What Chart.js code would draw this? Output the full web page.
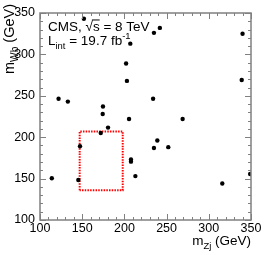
<!DOCTYPE html>
<html>
<head>
<meta charset="utf-8">
<script src="https://cdn.jsdelivr.net/npm/chart.js@4/dist/chart.umd.min.js"></script>
<style>
  html, body { margin: 0; padding: 0; background: #fff; }
</style>
</head>
<body>
<canvas id="c" width="266" height="255"></canvas>
<script>
// candidate events, m_Zj vs m_Wb (GeV)
const mZj = [152, 207, 202, 203, 122, 133, 174.6, 174.3, 235, 242, 340, 339, 234,
             205.5, 180.6, 172, 147.4, 207.8, 207.8, 213, 114, 145.4, 269, 239, 235, 252, 316, 349];
const mWb = [343, 313, 289, 268, 246.5, 243, 237, 228, 326, 332, 325, 269, 246.5,
             222, 211.6, 205, 189, 173, 170.5, 153, 150.4, 148.3, 222, 196, 187, 188, 144, 155.5];

// signal window (dotted box corners)
const boxZj = [147, 147, 198, 198, 147];
const boxWb = [136, 207, 207, 136, 136];

const xTickVals = [100, 150, 200, 250, 300, 350];
const yTickVals = [100, 150, 200, 250, 300, 350];

const FONT = '"Liberation Sans", Arial, Helvetica, sans-serif';
const AXIS_COLOR = '#808080';

function fontFor(p, size) {
    const s = (p.s === 'sub' || p.s === 'sup') ? size * 0.7 : size;
    return s + 'px ' + FONT;
}

// draws a run of text pieces with sub/superscripts
function richText(ctx, parts, x, y, size, align) {
    const widths = parts.map(p => { ctx.font = fontFor(p, size); return ctx.measureText(p.t).width; });
    const total = widths.reduce((a, b) => a + b, 0);
    let cx = align === 'right' ? x - total : x;
    parts.forEach((p, i) => {
        ctx.font = fontFor(p, size);
        let dy = 0;
        if (p.s === 'sub') dy = size * 0.3;
        if (p.s === 'sup') dy = -size * 0.42;
        ctx.fillText(p.t, cx, y + dy);
        if (p.over) {
            ctx.beginPath();
            ctx.lineWidth = 1;
            ctx.moveTo(cx - 1, y - size * 0.78);
            ctx.lineTo(cx + widths[i], y - size * 0.78);
            ctx.stroke();
        }
        cx += widths[i];
    });
}

const frame = {
    id: 'frame',
    beforeDatasetsDraw(chart) {
        const ctx = chart.ctx;
        ctx.save();
        ctx.fillStyle = '#000';
        ctx.strokeStyle = '#000';
        ctx.textAlign = 'left';
        ctx.textBaseline = 'alphabetic';
        richText(ctx, [{t: 'CMS, √'}, {t: 's', over: true}, {t: ' = 8 TeV'}], 48, 30.5, 13.5);
        richText(ctx, [{t: 'L'}, {t: 'int', s: 'sub'}, {t: ' = 19.7 fb'}, {t: '-1', s: 'sup'}], 48, 45, 13.5);

        // axis titles
        richText(ctx, [{t: 'm'}, {t: 'Zj', s: 'sub'}, {t: ' (GeV)'}], 251, 245, 13.5, 'right');
        ctx.translate(14, 4);
        ctx.rotate(-Math.PI / 2);
        richText(ctx, [{t: 'm'}, {t: 'Wb', s: 'sub'}, {t: ' (GeV)'}], 0, 0, 14.5, 'right');
        ctx.restore();
    },
    afterDraw(chart) {
        const ctx = chart.ctx;
        const a = chart.chartArea;
        const xs = chart.scales.x, ys = chart.scales.y;
        ctx.save();
        ctx.strokeStyle = AXIS_COLOR;
        ctx.lineWidth = 1.5;
        ctx.strokeRect(a.left, a.top, a.right - a.left, a.bottom - a.top);
        ctx.lineWidth = 1;
        ctx.beginPath();
        for (let v = xs.min; v <= xs.max; v += 10) {
            const px = Math.round(xs.getPixelForValue(v)) + 0.5;
            const len = (v % 50 === 0) ? 6 : 3;
            ctx.moveTo(px, a.bottom); ctx.lineTo(px, a.bottom - len);
            ctx.moveTo(px, a.top); ctx.lineTo(px, a.top + len);
        }
        for (let v = ys.min; v <= ys.max; v += 10) {
            const py = Math.round(ys.getPixelForValue(v)) + 0.5;
            const len = (v % 50 === 0) ? 6 : 3;
            ctx.moveTo(a.left, py); ctx.lineTo(a.left + len, py);
            ctx.moveTo(a.right, py); ctx.lineTo(a.right - len, py);
        }
        ctx.stroke();
        ctx.restore();
    }
};

new Chart(document.getElementById('c'), {
    type: 'scatter',
    data: {
        datasets: [
            {
                label: 'events',
                data: mZj.map((x, i) => ({x: x, y: mWb[i]})),
                backgroundColor: '#000',
                borderColor: '#000',
                pointRadius: 2.2,
                pointBorderWidth: 0
            },
            {
                label: 'window',
                data: boxZj.map((x, i) => ({x: x, y: boxWb[i]})),
                showLine: true,
                pointRadius: 0,
                borderColor: '#ff0000',
                borderWidth: 2,
                borderDash: [1.5, 1.2],
                fill: false
            }
        ]
    },
    options: {
        responsive: false,
        animation: false,
        events: [],
        layout: { padding: { top: 13, right: 15, left: 0, bottom: 0 } },
        plugins: { legend: { display: false }, tooltip: { enabled: false } },
        scales: {
            x: {
                type: 'linear', min: 100, max: 350,
                afterFit: s => { s.height = 35; },
                afterBuildTicks: s => { s.ticks = xTickVals.map(v => ({value: v})); },
                grid: { display: false, drawTicks: false },
                border: { display: false },
                ticks: { color: '#000', padding: 1, maxRotation: 0, autoSkip: false, font: { family: FONT, size: 12.5 } }
            },
            y: {
                type: 'linear', min: 100, max: 350,
                afterFit: s => { s.width = 40; },
                afterBuildTicks: s => { s.ticks = yTickVals.map(v => ({value: v})); },
                grid: { display: false, drawTicks: false },
                border: { display: false },
                ticks: { color: '#000', padding: 5, autoSkip: false, font: { family: FONT, size: 12.5 } }
            }
        }
    },
    plugins: [frame]
});
</script>
</body>
</html>
